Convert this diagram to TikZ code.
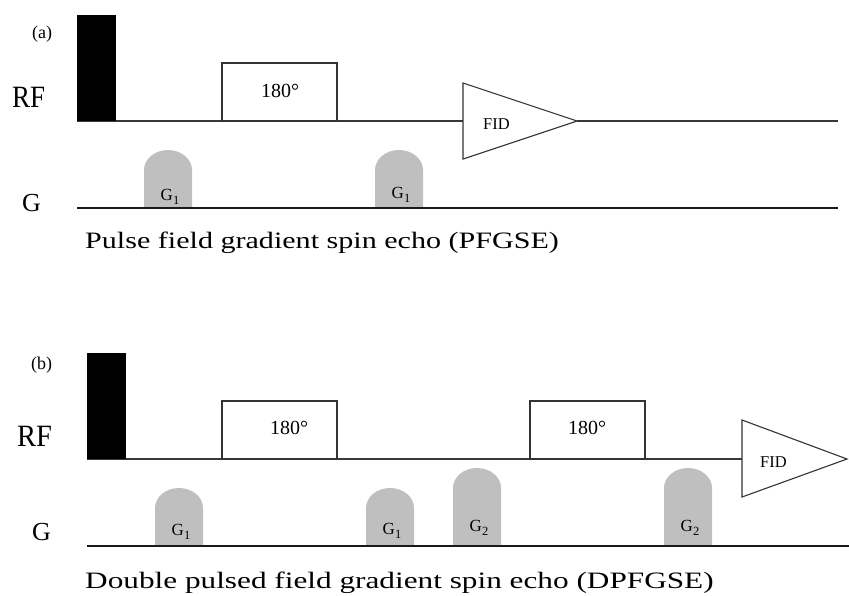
\documentclass[tikz,border=0pt]{standalone}
\usepackage{fontspec}
\setmainfont{Liberation Serif}
\usepackage{graphicx}
\tikzset{
  seqline/.style={draw=black!78, line width=1.2pt},
  gradline/.style={draw=black!90, line width=1.3pt},
  hardpulse/.style={fill=black},
  softpulse/.style={draw=black!80, line width=1.1pt, fill=white},
  fidshape/.style={draw=black!80, line width=1.1pt, fill=white, line join=miter},
  lobe/.style={fill=black!25},
  panellabel/.style={font=\fontsize{18}{18}\selectfont, anchor=base west, inner sep=0pt},
  axislabel/.style={font=\fontsize{31}{31}\selectfont, anchor=base west, inner sep=0pt},
  glabel/.style={font=\fontsize{26}{26}\selectfont, anchor=base west, inner sep=0pt},
  degtext/.style={font=\fontsize{20}{20}\selectfont, anchor=base, inner sep=0pt},
  fidtext/.style={font=\fontsize{16.5}{16.5}\selectfont, anchor=base west, inner sep=0pt},
  lobetext/.style={font=\fontsize{17}{17}\selectfont, anchor=base, inner sep=0pt},
  captext/.style={font=\fontsize{23.5}{23.5}\selectfont, anchor=base west, inner sep=0pt},
}
\newcommand{\gsub}[1]{G\raisebox{-4pt}{\fontsize{12.5}{12.5}\selectfont #1}}
% lobe: left x, top y, base y (y downwards)
\newcommand{\gradlobe}[3]{%
  \fill[lobe] (#1,#3) -- (#1,#2+20) arc[start angle=180, end angle=0, x radius=24pt, y radius=20pt] -- (#1+48,#3) -- cycle;}
\begin{document}
\begin{tikzpicture}[x=1pt,y=-1pt]
\useasboundingbox (0,0) rectangle (849,595);

% ---------------- panel (a) ----------------
\node[panellabel] (la) at (32,38) {(a)};
\node[axislabel] (rfa) at (12,107) {\scalebox{0.87}[1]{RF}};
\node[glabel] (ga) at (22,211) {G};

\coordinate (a0) at (77,121);
\coordinate (aend) at (838,121);
\draw[seqline] (a0) -- (463,121);
\draw[seqline] (577,121) -- (aend);
\fill[hardpulse] (77,15) rectangle (116,121);
\draw[softpulse] (222,121) rectangle (337,63);
\node[degtext] (pa1) at (280,97) {180°};
\draw[fidshape] (463,83) -- (577,121) -- (463,159) -- cycle;
\node[fidtext] (fida) at (483,129) {FID};

\coordinate (ga0) at (77,208);
\coordinate (gaend) at (838,208);
\gradlobe{144}{150}{208}
\gradlobe{375}{150}{208}
\draw[gradline] (ga0) -- (gaend);
\node[lobetext] (g1a) at (170,200) {\gsub{1}};
\node[lobetext] (g1b) at (401,198) {\gsub{1}};

\node[captext] (capa) at (85,248) {\scalebox{1.28}[1]{Pulse field gradient spin echo (PFGSE)}};

% ---------------- panel (b) ----------------
\node[panellabel] (lb) at (31,369) {(b)};
\node[axislabel] (rfb) at (17,446) {\scalebox{0.92}[1]{RF}};
\node[glabel] (gb) at (32,540) {G};

\coordinate (b0) at (87,459);
\draw[seqline] (b0) -- (742,459);
\fill[hardpulse] (87,353) rectangle (126,459);
\draw[softpulse] (222,459) rectangle (337,401);
\node[degtext] (pb1) at (289,434) {180°};
\draw[softpulse] (530,459) rectangle (645,401);
\node[degtext] (pb2) at (587,434) {180°};
\draw[fidshape] (742,420) -- (847,459) -- (742,497) -- cycle;
\node[fidtext] (fidb) at (760,467) {FID};

\coordinate (gb0) at (87,546);
\coordinate (gbend) at (849,546);
\gradlobe{155}{488}{546}
\gradlobe{366}{488}{546}
\gradlobe{453}{468}{546}
\gradlobe{664}{468}{546}
\draw[gradline] (gb0) -- (gbend);
\node[lobetext] (g1c) at (181,535) {\gsub{1}};
\node[lobetext] (g1d) at (392,534) {\gsub{1}};
\node[lobetext] (g2a) at (479,531) {\gsub{2}};
\node[lobetext] (g2b) at (690,531) {\gsub{2}};

\node[captext] (capb) at (85,588) {\scalebox{1.33}[1]{Double pulsed field gradient spin echo (DPFGSE)}};
\end{tikzpicture}
\end{document}
